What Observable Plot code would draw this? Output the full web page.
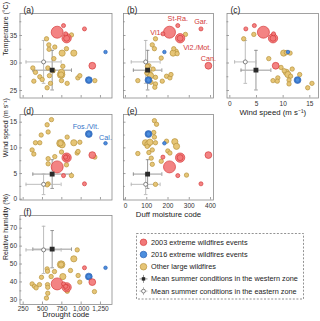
<!DOCTYPE html>
<html><head><meta charset="utf-8">
<script src="https://cdn.jsdelivr.net/npm/d3@7"></script>
<script src="https://cdn.jsdelivr.net/npm/@observablehq/plot@0.6"></script>
<style>
html,body{margin:0;padding:0;background:#fff;}
#chart{position:relative;width:320px;height:321px;font-family:"Liberation Sans",Arial,sans-serif;}
#chart svg{position:absolute;left:0;top:0;}
</style></head><body><div id="chart"></div>
<script>
// ---------- DATA ----------
// Named extreme wildfire events (2003 and 2016)
const eventName  = ["Vi1.", "St-Ra.", "Vi2.", "Mot.", "Gar.", "Can.", "", "Fos.", "Vit.", "Cal."];
const eventYear  = [2003, 2003, 2003, 2003, 2003, 2003, 2003, 2016, 2016, 2016];
const eventDC    = [690, 772, 812, 812, 1043, 1144, 800, 1099, 1099, 1315];
const eventDMC   = [207, 246, 257, 257, 355, 390, 176, 108, 108, 183];
const eventWS    = [6.3, 4.6, 8.1, 8.1, 3.0, 8.6, 8.2, 12.7, 12.7, 10.9];
const eventT     = [35.6, 36.8, 34.5, 34.5, 36.2, 29.5, 35.3, 26.9, 26.9, 32.0];
const eventRH    = [38.9, 38.9, 37.0, 37.0, 47.9, 39.9, 37.5, 43.0, 43.0, 47.9];
const eventArea  = [15, 1.7, 9, 3.7, 1.7, 4.8, 1.7, 4.8, 2.4, 1.3];

// Other large wildfires, read per panel: [x value, y value, burned area]
const otherDC_T = [[552,34.4,2],[875,35.1,2],[582,33.3,2],[585,32.5,2],[659,32.9,2],[754,31.8,4],[810,32.6,2],[905,31.8,4],[647,30.8,2],[375,29.1,2],[409,28.3,2],[569,29.1,2],[763,29.4,2],[638,28.6,2],[746,28.3,4],[741,27.9,6],[741,27.9,3],[465,27.5,2],[496,27.0,2],[590,27.7,2],[388,26.7,2],[603,26.3,2],[560,25.5,2],[746,26.8,2],[819,26.3,2],[957,27.3,2],[983,27.7,2],[1177,26.8,2]];
const otherDMC_T = [[282,35.2,2],[141,34.4,2],[126,33.3,2],[136,32.6,2],[227,32.6,2],[235,32.0,4],[224,31.8,4],[243,31.7,2],[168,30.9,2],[110,29.5,2],[103,29.4,2],[130,28.9,2],[105,28.6,2],[112,28.0,4],[118,27.7,4],[100,28.2,2],[58,26.8,2],[141,27.4,2],[141,26.2,2],[138,25.6,2],[173,26.7,2],[193,27.6,2],[209,27.3,2],[214,27.9,2],[120,26.5,2]];
const otherWS_T = [[2.6,34.4,2],[4.5,35.2,2],[10.1,31.8,4],[11.3,31.8,2],[10.6,31.9,2],[7.3,30.8,2],[9.6,29.2,2],[10.6,28.3,4],[10.9,27.9,4],[11.4,27.6,2],[13.1,27.9,2],[9.0,27.3,2],[8.1,26.8,2],[8.9,26.7,2],[11.1,26.9,2],[15.4,26.3,2],[14.6,25.5,2],[11.1,26.2,2],[10.2,28.6,2],[11.7,28.9,2]];
const otherDC_WS = [[616,15.5,2],[560,14.5,2],[573,13.1,2],[483,12.5,2],[409,11.0,2],[465,11.0,2],[733,10.9,6],[733,10.9,3],[754,10.6,4],[819,12.1,2],[905,11.0,4],[983,11.1,2],[366,9.6,2],[388,8.8,2],[746,9.2,2],[659,8.3,2],[573,7.9,2],[573,6.9,2],[948,9.0,2],[960,9.3,2],[1177,8.2,2],[810,6.7,2],[875,4.6,2],[573,3.0,2],[560,2.8,2]];
const otherDMC_WS = [[136,15.3,2],[146,14.6,2],[133,13.0,2],[136,12.1,2],[94,11.0,4],[105,10.7,4],[102,10.3,2],[141,11.0,2],[115,11.1,4],[193,11.3,2],[232,11.2,4],[240,10.3,4],[58,8.9,2],[110,9.1,2],[126,9.6,2],[199,9.4,2],[209,9.0,2],[168,7.4,2],[126,6.8,2],[287,4.7,2],[141,2.9,2],[121,8.0,2]];
const otherDC_RH = [[949,57.9,2],[905,52.9,4],[741,49.7,6],[741,49.7,3],[560,47.3,2],[565,46.0,2],[655,45.8,2],[487,42.6,2],[763,43.0,4],[612,43.0,2],[862,46.4,2],[961,43.6,2],[982,39.9,2],[366,38.9,2],[396,37.6,2],[418,36.7,2],[461,38.5,2],[565,38.5,2],[568,37.0,2],[820,34.8,2],[568,33.7,2],[551,31.0,2],[1172,34.6,2]];

// Mean summer conditions (mean and standard deviation)
const meanZone = ["western", "eastern"];
const meanDC  = [625, 514],  sdDC  = [250, 227];
const meanDMC = [104, 95],   sdDMC = [67, 68];
const meanT   = [28.7, 30.2], sdT  = [3.6, 3.9];
const meanWS  = [4.9, 2.9],  sdWS  = [2.8, 2.0];
const meanRH  = [58.3, 57.9], sdRH = [10.4, 13.2];

// Axis ticks
const ticksDC = [250, 500, 750, 1000, 1250];
const ticksDMC = [0, 100, 200, 300, 400];
const ticksWSx = [0, 5, 10, 15];
const ticksT = [25, 30, 35], minorT = [27.5, 32.5, 37.5];
const ticksWS = [0, 5, 10, 15], minorWS = [2.5, 7.5, 12.5];
const ticksRH = [30, 40, 50, 60, 70], minorRH = [35, 45, 55, 65, 75];

// ---------- STYLE ----------
const tanFill = "#e6c576", tanStroke = "#b8933d";
const redFill = "#f27878", redStroke = "#d63c3c", redText = "#d23a3a";
const blueFill = "#4c8ede", blueStroke = "#2b62b4", blueText = "#3574c8";
const axisGray = "#8a8a8a";
const font = "Liberation Sans, Arial, sans-serif";

const events = eventName.map((n, i) => ({name: n, year: eventYear[i], DC: eventDC[i], DMC: eventDMC[i], WS: eventWS[i], T: eventT[i], RH: eventRH[i], area: eventArea[i]}));
const sd = {DC: sdDC, DMC: sdDMC, T: sdT, WS: sdWS, RH: sdRH};
const mv = {DC: meanDC, DMC: meanDMC, T: meanT, WS: meanWS, RH: meanRH};

const vbar = {draw(c, size) { const r = Math.sqrt(size / Math.PI); c.moveTo(0, -r); c.lineTo(0, r); }};
const hbar = {draw(c, size) { const r = Math.sqrt(size / Math.PI); c.moveTo(-r, 0); c.lineTo(r, 0); }};

function panel(cfg) {
  const [fl, fr, ft, fb] = cfg.frame;
  const W = fr - fl, H = fb - ft;
  const xk = cfg.xKey, yk = cfg.yKey;
  const tan = cfg.other.map(([x, y, a]) => ({x, y, a}));
  const ev = events.map(e => ({x: e[xk], y: e[yk], a: e.area, year: e.year, name: e.name}));
  const ms = meanZone.map((z, i) => ({zone: z, x: mv[xk][i], y: mv[yk][i],
    x1: mv[xk][i] - sd[xk][i], x2: mv[xk][i] + sd[xk][i],
    y1: mv[yk][i] - sd[yk][i], y2: mv[yk][i] + sd[yk][i]}));
  const marks = [
    Plot.frame({stroke: axisGray, strokeWidth: 0.8}),
    Plot.tickX(cfg.xTicks, {x: d => d, insetTop: H - 2.5, stroke: axisGray, strokeWidth: 0.8}),
    Plot.tickY(cfg.yTicks, {y: d => d, insetRight: W - 2.5, stroke: axisGray, strokeWidth: 0.8}),
    Plot.tickY(cfg.yMinor, {y: d => d, insetRight: W - 1.8, stroke: axisGray, strokeWidth: 0.8})
  ];
  if (cfg.xLabels) {
    marks.push(Plot.axisX(cfg.xTicks, {tickSize: 0, tickPadding: cfg.xPad, fontSize: 6.5, color: "#333", label: null}));
    marks.push(Plot.text([cfg.xTitle], {text: d => d, frameAnchor: "bottom", dy: cfg.xTitleDy, fontSize: 7.8, fill: "#222"}));
  }
  if (cfg.yLabels) {
    marks.push(Plot.axisY(cfg.yTicks, {tickSize: 0, tickPadding: 3, fontSize: 6.5, color: "#333", label: null}));
    marks.push(Plot.text([cfg.yTitle], {text: d => d, frameAnchor: "left", dx: -14.5, rotate: -90, fontSize: 7, fill: "#222"}));
  }
  // error bars of mean conditions
  ms.forEach(m => {
    const c = m.zone === "western" ? "#8d8d8d" : "#b5b5b5";
    marks.push(Plot.ruleY([m], {y: "y", x1: "x1", x2: "x2", stroke: c, strokeWidth: 0.9}));
    marks.push(Plot.ruleX([m], {x: "x", y1: "y1", y2: "y2", stroke: c, strokeWidth: 0.9}));
    marks.push(Plot.dot([m, m], {x: (d, i) => i ? d.x2 : d.x1, y: "y", symbol: vbar, r: 1.8, fill: "none", stroke: c, strokeWidth: 0.9}));
    marks.push(Plot.dot([m, m], {x: "x", y: (d, i) => i ? d.y2 : d.y1, symbol: hbar, r: 1.8, fill: "none", stroke: c, strokeWidth: 0.9}));
  });
  marks.push(Plot.dot(tan, {x: "x", y: "y", r: "a", fill: tanFill, stroke: tanStroke, strokeWidth: 0.7}));
  marks.push(Plot.dot(ev.filter(e => e.year === 2016), {x: "x", y: "y", r: "a", fill: blueFill, stroke: blueStroke, strokeWidth: 0.7}));
  marks.push(Plot.dot(ev.filter(e => e.year === 2003), {x: "x", y: "y", r: "a", fill: redFill, fillOpacity: 0.92, stroke: redStroke, strokeWidth: 0.7}));
  // mean markers
  marks.push(Plot.dot(ms.filter(m => m.zone === "western"), {x: "x", y: "y", symbol: "square", r: 1.9, fill: "#2a2a2a", stroke: "#2a2a2a"}));
  marks.push(Plot.dot(ms.filter(m => m.zone === "eastern"), {x: "x", y: "y", symbol: "circle", r: 2, fill: "white", stroke: "#666", strokeWidth: 0.8}));
  // event labels
  (cfg.notes || []).forEach(n => {
    const e = ev.find(d => d.name === n.name);
    marks.push(Plot.text([e], {x: "x", y: "y", text: () => n.text, dx: n.dx, dy: n.dy, textAnchor: n.anchor || "middle",
      fontSize: 7.2, fill: e.year === 2003 ? redText : blueText}));
  });
  marks.push(Plot.text([cfg.letter], {text: d => d, frameAnchor: "top-left", dx: 3.5, dy: -7, textAnchor: "start", fontSize: 8.5, fill: "#222"}));

  return Plot.plot({
    width: 320, height: 321,
    marginLeft: fl, marginRight: 320 - fr, marginTop: ft, marginBottom: 321 - fb,
    x: {domain: cfg.xDomain, axis: null},
    y: {domain: cfg.yDomain, axis: null},
    r: {type: "sqrt", domain: [0, 15], range: [0, 6]},
    style: {background: "none", fontFamily: font, fontSize: "6.5px", color: "#333", overflow: "visible"},
    marks
  });
}

const domDC = [209, 1399], domDMC = [-9.4, 414], domWSx = [-0.53, 16.63];
const domT = [23.64, 39], domWS = [-0.15, 16.5], domRH = [27.4, 77.1];
const col1 = [19.5, 111.5], col2 = [123, 213], col3 = [226.5, 318];
const row1 = [13, 97.5], row2 = [114, 199.5], row3 = [215, 304];

const panels = [
  {letter: "(a)", frame: [...col1, ...row1], xKey: "DC", yKey: "T", xDomain: domDC, yDomain: domT, xTicks: ticksDC, yTicks: ticksT, yMinor: minorT,
   xLabels: false, yLabels: true, yTitle: "Temperature (°C)", other: otherDC_T},
  {letter: "(b)", frame: [...col2, ...row1], xKey: "DMC", yKey: "T", xDomain: domDMC, yDomain: domT, xTicks: ticksDMC, yTicks: ticksT, yMinor: minorT,
   xLabels: false, yLabels: false, other: otherDMC_T,
   notes: [{name: "St-Ra.", text: "St-Ra.", dx: 0, dy: -7}, {name: "Gar.", text: "Gar.", dx: 0, dy: -7},
           {name: "Vi1.", text: "Vi1.", dx: -7, dy: 0, anchor: "end"}, {name: "Vi2.", text: "Vi2./Mot.", dx: 3, dy: 9, anchor: "start"},
           {name: "Can.", text: "Can.", dx: 0, dy: -7.5}]},
  {letter: "(c)", frame: [...col3, ...row1], xKey: "WS", yKey: "T", xDomain: domWSx, yDomain: domT, xTicks: ticksWSx, yTicks: ticksT, yMinor: minorT,
   xLabels: true, xPad: 3, yLabels: false, xTitle: "Wind speed (m s\u207B\u00B9)", xTitleDy: 17, other: otherWS_T},
  {letter: "(d)", frame: [...col1, ...row2], xKey: "DC", yKey: "WS", xDomain: domDC, yDomain: domWS, xTicks: ticksDC, yTicks: ticksWS, yMinor: minorWS,
   xLabels: false, yLabels: true, yTitle: "Wind speed (m s\u207B\u00B9)", other: otherDC_WS,
   notes: [{name: "Fos.", text: "Fos./Vit.", dx: -3, dy: -7}, {name: "Cal.", text: "Cal.", dx: 0, dy: -6}]},
  {letter: "(e)", frame: [...col2, ...row2], xKey: "DMC", yKey: "WS", xDomain: domDMC, yDomain: domWS, xTicks: ticksDMC, yTicks: ticksWS, yMinor: minorWS,
   xLabels: true, xPad: 3, yLabels: false, xTitle: "Duff moisture code", xTitleDy: 16.5, other: otherDMC_WS},
  {letter: "(f)", frame: [...col1, ...row3], xKey: "DC", yKey: "RH", xDomain: domDC, yDomain: domRH, xTicks: ticksDC, yTicks: ticksRH, yMinor: minorRH,
   xLabels: true, xPad: 1.5, xTitleDy: 12.7, yLabels: true, xTitle: "Drought code", yTitle: "Relative humidity (%)", other: otherDC_RH}
];

const chart = document.getElementById("chart");
panels.forEach(p => chart.appendChild(panel(p)));

// ---------- LEGEND ----------
const legendItems = ["2003 extreme wildfires events", "2016 extreme wildfires events", "Other large wildfires",
  "Mean summer conditions in the western zone", "Mean summer conditions in the eastern zone"];
const lg = d3.create("svg").attr("width", 320).attr("height", 321).style("font-family", font);
lg.append("rect").attr("x", 136.5).attr("y", 233.5).attr("width", 167).attr("height", 65.5)
  .attr("fill", "none").attr("stroke", "#777").attr("stroke-width", 0.8).attr("stroke-dasharray", "2,1.6");
legendItems.forEach((t, i) => {
  const cy = 242.3 + i * 12.2, cx = 143.5;
  const g = lg.append("g");
  if (i < 3) {
    const f = [redFill, blueFill, tanFill][i], s = [redStroke, blueStroke, tanStroke][i];
    g.append("circle").attr("cx", cx).attr("cy", cy).attr("r", 3.3).attr("fill", f).attr("stroke", s).attr("stroke-width", 0.7);
  } else {
    const c = i === 3 ? "#8d8d8d" : "#b5b5b5";
    g.append("line").attr("x1", cx - 4).attr("x2", cx + 4).attr("y1", cy).attr("y2", cy).attr("stroke", c).attr("stroke-width", 0.9);
    g.append("line").attr("x1", cx).attr("x2", cx).attr("y1", cy - 4).attr("y2", cy + 4).attr("stroke", c).attr("stroke-width", 0.9);
    if (i === 3) g.append("rect").attr("x", cx - 1.7).attr("y", cy - 1.7).attr("width", 3.4).attr("height", 3.4).attr("fill", "#2a2a2a");
    else g.append("circle").attr("cx", cx).attr("cy", cy).attr("r", 1.9).attr("fill", "white").attr("stroke", "#666").attr("stroke-width", 0.8);
  }
  g.append("text").attr("x", 151).attr("y", cy).attr("dy", "0.35em").attr("font-size", 7.3).attr("fill", "#222").text(t);
});
chart.appendChild(lg.node());
</script></body></html>
